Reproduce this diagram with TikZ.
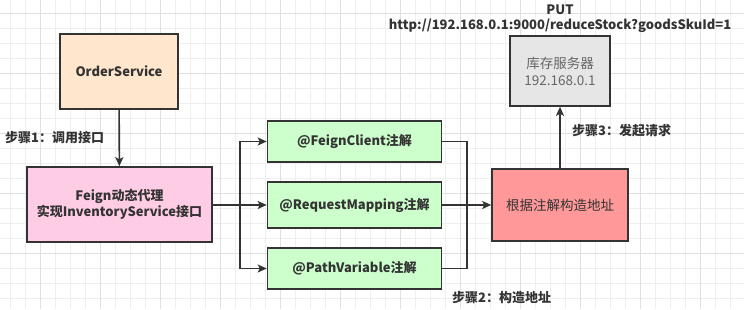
\documentclass[tikz,border=0pt]{standalone}
\usepackage{fontspec}
\setmainfont{Noto Sans CJK SC}
\usetikzlibrary{arrows.meta}
\definecolor{gridminor}{HTML}{EFEFEF}
\definecolor{gridmajor}{HTML}{E0E0E0}
\definecolor{stroke}{HTML}{333333}
\definecolor{cOrange}{HTML}{FFE6CC}
\definecolor{cPink}{HTML}{FFCCE6}
\definecolor{cGreen}{HTML}{CCFFCC}
\definecolor{cRed}{HTML}{FF9999}
\definecolor{cGray}{HTML}{E6E6E6}
\definecolor{tGray}{HTML}{666666}
\tikzset{
  box/.style={draw=stroke, line width=1.6pt, align=center, inner sep=2pt,
    font=\fontsize{13}{16.5}\selectfont\bfseries, text=stroke},
  conn/.style={draw=stroke, line width=1.6pt},
  arr/.style={conn, -{Stealth[length=9pt,width=8pt,inset=2pt]}},
  lbl/.style={font=\fontsize{13}{15}\selectfont\bfseries, text=stroke, inner sep=0pt}
}
\begin{document}
\begin{tikzpicture}[x=1pt,y=-1pt]
\useasboundingbox (0,0) rectangle (744,309);
\fill[white] (0,0) rectangle (744,309);
% grid
\foreach \x in {10,25,...,744} \draw[gridminor, line width=0.8pt] (\x,0) -- (\x,309);
\foreach \y in {13,28,...,309} \draw[gridminor, line width=0.8pt] (0,\y) -- (744,\y);
\foreach \x in {40,100,...,744} \draw[gridmajor, line width=0.8pt] (\x,0) -- (\x,309);
\foreach \y in {13,73,...,309} \draw[gridmajor, line width=0.8pt] (0,\y) -- (744,\y);

% nodes
\node[box, fill=cOrange, minimum width=118pt, minimum height=75pt] (order) at (119,71.5) {OrderService};
\node[box, fill=cPink, minimum width=185pt, minimum height=75pt] (feign) at (119.5,204.5) {Feign动态代理\\实现InventoryService接口};
\node[box, fill=cGreen, minimum width=174pt, minimum height=41pt] (fc) at (354.5,141.5) {@FeignClient注解};
\node[box, fill=cGreen, minimum width=174pt, minimum height=46pt] (rm) at (354.5,205) {@RequestMapping注解};
\node[box, fill=cGreen, minimum width=174pt, minimum height=41pt] (pv) at (354.5,268.5) {@PathVariable注解};
\node[box, fill=cRed, minimum width=136pt, minimum height=72pt, font=\fontsize{13.5}{16}\selectfont] (gen) at (560,205) {根据注解构造地址};
\node[box, fill=cGray, minimum width=100pt, minimum height=70pt, font=\fontsize{13.5}{17}\selectfont, text=tGray] (inv) at (560,71) {库存服务器\\192.168.0.1};

% labels
\node[lbl] (put) at (560,10) {PUT};
\node[lbl] (url) at (560,26) {http://192.168.0.1:9000/reduceStock?goodsSkuId=1};
\node[lbl, anchor=west] (l1) at (5,138) {步骤1：调用接口};
\node[lbl, anchor=west] (l2) at (452,298) {步骤2：构造地址};
\node[lbl, anchor=west] (l3) at (572,131) {步骤3：发起请求};

% connectors
\draw[arr] (order) -- (feign);
\coordinate (sp) at (240,205);
\draw[conn] (feign.east |- sp) -- (sp);
\draw[arr] (sp) |- (fc.west);
\draw[arr] (sp) -- (rm.west);
\draw[arr] (sp) |- (pv.west);
\coordinate (jn) at (467,205);
\draw[conn] (fc.east) -| (jn);
\draw[conn] (pv.east) -| (jn);
\draw[conn] (rm.east) -- (jn);
\draw[arr] (jn) -- (gen.west);
\draw[arr] (gen) -- (inv);
\end{tikzpicture}
\end{document}
